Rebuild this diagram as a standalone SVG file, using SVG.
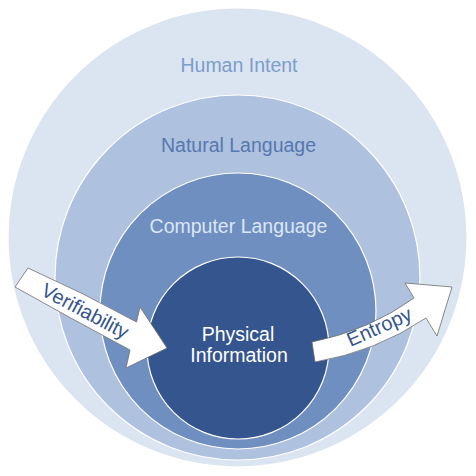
<svg xmlns="http://www.w3.org/2000/svg" width="476" height="476" viewBox="0 0 476 476">
<style>
.ring{stroke:#ffffff;stroke-width:1.2}
.lbl{font-family:"Liberation Sans",Arial,sans-serif;font-size:19.5px;text-anchor:middle}
.arrow{fill:#ffffff;stroke:#6f6f6f;stroke-width:0.8;stroke-linejoin:miter}
.alb{font-family:"Liberation Sans",Arial,sans-serif;font-size:20px;fill:#34558d;text-anchor:middle}
</style>
<rect width="476" height="476" fill="#ffffff"/>
<g id="human-intent">
<circle class="ring" cx="237.5" cy="237.5" r="229.5" fill="#dbe4f1"/>
<text class="lbl" x="239" y="72" fill="#7c9dca">Human Intent</text>
</g>
<g id="natural-language">
<circle class="ring" cx="237.5" cy="277.5" r="182.5" fill="#aec1de"/>
<text class="lbl" x="238.5" y="152" fill="#5678b0">Natural Language</text>
</g>
<g id="computer-language">
<circle class="ring" cx="238" cy="311" r="138" fill="#6f8fc1"/>
<text class="lbl" x="238.5" y="233" fill="#dce6f4">Computer Language</text>
</g>
<g id="physical-information">
<circle class="ring" cx="238" cy="348" r="91" fill="#34558d"/>
<text class="lbl" x="238" y="341" fill="#ffffff">Physical</text>
<text class="lbl" x="239" y="362" fill="#ffffff">Information</text>
</g>
<g id="connectors">
<g id="verifiability">
<path class="arrow" d="M 28 268 Q 82 292 136.5 322 L 140 307 L 167 348 L 126 368 L 130 350 Q 70 318 15 287 Z"/>
<text class="alb" transform="translate(82 317) rotate(28)">Verifiability</text>
</g>
<g id="entropy">
<path class="arrow" d="M 312 342 Q 370 330 414 298 L 405 283 L 452 287 L 437 336 L 426 318 Q 375 352 315 362 Z"/>
<text class="alb" transform="translate(382 333) rotate(-24)">Entropy</text>
</g>
</g>
</svg>
